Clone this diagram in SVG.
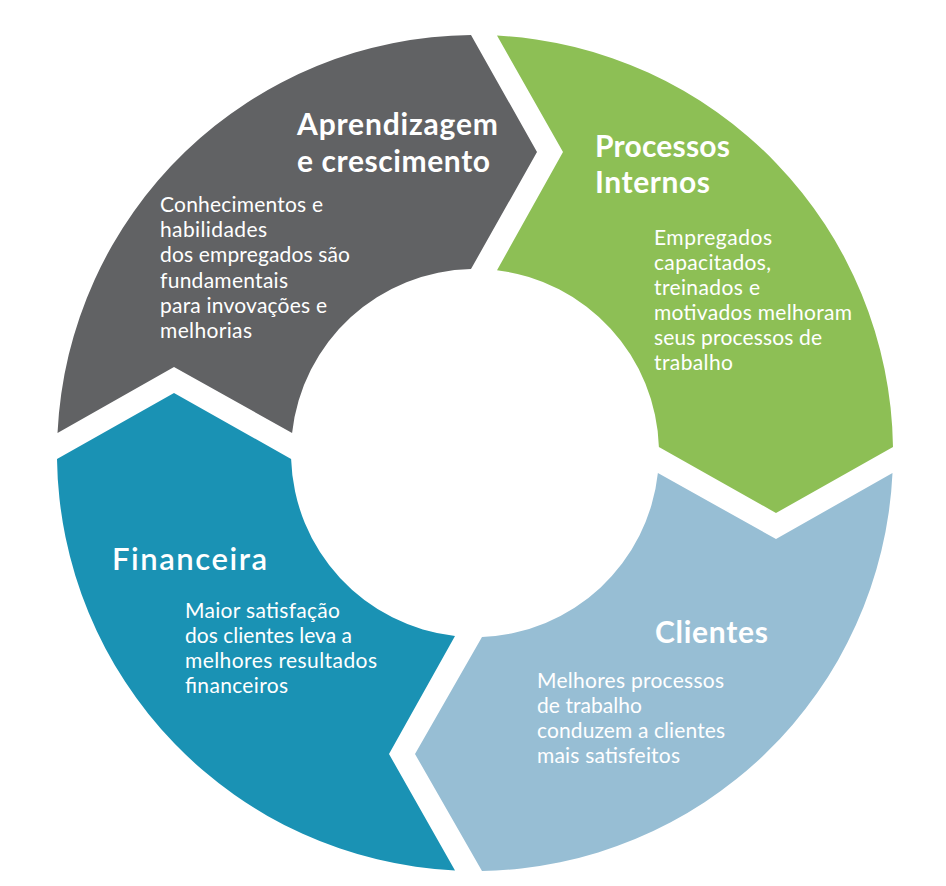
<svg xmlns="http://www.w3.org/2000/svg" width="946" height="886" viewBox="0 0 946 886">
<style>
.t{font-family:Lato,"Liberation Sans",sans-serif;font-weight:bold;font-size:30px;fill:#ffffff}
.b{font-family:Lato,"Liberation Sans",sans-serif;font-size:21px;fill:#ffffff}
</style>
<rect width="946" height="886" fill="#ffffff"/>
<g id="aprendizagem">
<path d="M 57.5 433 A 418 418 0 0 1 471 35 L 537 152 L 471 269 A 184 184 0 0 0 292.1 433 L 174 367 Z" fill="#616264"/>
<text class="t" x="297" y="135" textLength="201" lengthAdjust="spacing">Aprendizagem</text>
<text class="t" x="297" y="172" textLength="193" lengthAdjust="spacing">e crescimento</text>
<text class="b" x="160" y="212" textLength="163" lengthAdjust="spacing">Conhecimentos e</text>
<text class="b" x="160" y="237" textLength="107" lengthAdjust="spacing">habilidades</text>
<text class="b" x="160" y="262" textLength="190" lengthAdjust="spacing">dos empregados são</text>
<text class="b" x="160" y="288" textLength="128" lengthAdjust="spacing">fundamentais</text>
<text class="b" x="160" y="313" textLength="167" lengthAdjust="spacing">para invovações e</text>
<text class="b" x="160" y="338" textLength="92" lengthAdjust="spacing">melhorias</text>
</g>
<g id="processos">
<path d="M 497 35.6 A 418 418 0 0 1 893 447 L 776 513 L 658.9 447 A 184 184 0 0 0 497 270.3 L 563 152 Z" fill="#8dbf55"/>
<text class="t" x="595" y="157" textLength="135" lengthAdjust="spacing">Processos</text>
<text class="t" x="595" y="193" textLength="115" lengthAdjust="spacing">Internos</text>
<text class="b" x="654" y="245" textLength="118" lengthAdjust="spacing">Empregados</text>
<text class="b" x="654" y="270" textLength="117" lengthAdjust="spacing">capacitados,</text>
<text class="b" x="654" y="295" textLength="106" lengthAdjust="spacing">treinados e</text>
<text class="b" x="654" y="320" textLength="198" lengthAdjust="spacing">motivados melhoram</text>
<text class="b" x="654" y="345" textLength="168" lengthAdjust="spacing">seus processos de</text>
<text class="b" x="654" y="370" textLength="79" lengthAdjust="spacing">trabalho</text>
</g>
<g id="clientes">
<path d="M 892.5 473 A 418 418 0 0 1 482 870.9 L 415 754 L 482 636.9 A 184 184 0 0 0 657.9 473 L 776 539 Z" fill="#97bed4"/>
<text class="t" x="655" y="643" textLength="113" lengthAdjust="spacing">Clientes</text>
<text class="b" x="537" y="688" textLength="187" lengthAdjust="spacing">Melhores processos</text>
<text class="b" x="537" y="713" textLength="105" lengthAdjust="spacing">de trabalho</text>
<text class="b" x="537" y="738" textLength="188" lengthAdjust="spacing">conduzem a clientes</text>
<text class="b" x="537" y="763" textLength="143" lengthAdjust="spacing">mais satisfeitos</text>
</g>
<g id="financeira">
<path d="M 455 870.5 A 418 418 0 0 1 57 459 L 174 393 L 291.1 459 A 184 184 0 0 0 455 635.9 L 389 754 Z" fill="#1a92b4"/>
<text class="t" x="112" y="570" style="font-size:31px;font-weight:600" textLength="155" lengthAdjust="spacing">Financeira</text>
<text class="b" x="185" y="618" textLength="155" lengthAdjust="spacing">Maior satisfação</text>
<text class="b" x="185" y="643" textLength="167" lengthAdjust="spacing">dos clientes leva a</text>
<text class="b" x="185" y="668" textLength="192" lengthAdjust="spacing">melhores resultados</text>
<text class="b" x="185" y="693" textLength="103" lengthAdjust="spacing">financeiros</text>
</g>
<g id="connectors"/>
</svg>
